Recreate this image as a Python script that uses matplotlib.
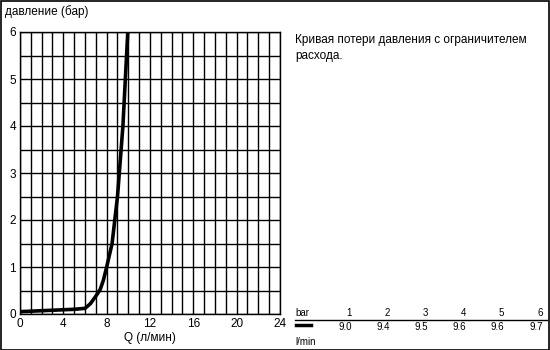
import matplotlib.pyplot as plt
from matplotlib.ticker import MultipleLocator
from matplotlib.patches import Rectangle
from matplotlib.lines import Line2D

plt.rcParams['font.family'] = ['Liberation Sans', 'DejaVu Sans']

# curve
flow = [0, 1, 2, 3, 4, 5, 6, 6.5, 7, 7.4, 7.7, 8.0, 8.5, 9.0, 9.5, 9.95]
pressure = [0.05, 0.06, 0.07, 0.08, 0.09, 0.10, 0.12, 0.22, 0.38, 0.52, 0.72,
            1.0, 1.5, 2.5, 4.0, 6.0]

# table at the bottom right
table_bar = ['1', '2', '3', '4', '5', '6']
table_lmin = ['9.0', '9.4', '9.5', '9.6', '9.6', '9.7']

title_lines = ['Кривая потери давления с ограничителем', 'расхода.']

W, H = 550, 350
fig = plt.figure(figsize=(5.5, 3.5), dpi=100)
fig.patch.set_facecolor('white')

ax = fig.add_axes([20 / W, 1 - 314 / H, 260 / W, 282 / H])
ax.set_xlim(0, 24)
ax.set_ylim(0, 6)
ax.xaxis.set_major_locator(MultipleLocator(4))
ax.xaxis.set_minor_locator(MultipleLocator(1))
ax.yaxis.set_major_locator(MultipleLocator(1))
ax.yaxis.set_minor_locator(MultipleLocator(0.5))
ax.grid(which='both', color='black', linewidth=1)
ax.set_axisbelow(True)
ax.tick_params(which='both', length=0, labelsize=8.5, pad=3)
for s in ax.spines.values():
    s.set_color('black')
    s.set_linewidth(1)

ax.plot(flow, pressure, color='black', linewidth=2.6, solid_capstyle='butt')

ax.set_xlabel('Q (л/мин)', fontsize=8.5, labelpad=1)
fig.text(5 / W, 1 - 12 / H, 'давление (бар)', fontsize=8.5, va='center')

# title on the right
for i, line in enumerate(title_lines):
    fig.text(295 / W, 1 - (40 + i * 16) / H, line, fontsize=8.5, va='center')

# table
fig.text(295 / W, 1 - 313 / H, 'bar', fontsize=7, va='center')
fig.text(295 / W, 1 - 342 / H, 'l/min', fontsize=7, va='center')
xs = [352, 390, 428, 466, 504, 543]
for x, b, q in zip(xs, table_bar, table_lmin):
    fig.text(x / W, 1 - 313 / H, b, fontsize=7, ha='right', va='center')
    fig.text(x / W, 1 - 327 / H, q, fontsize=7, ha='right', va='center')
fig.add_artist(Line2D([295 / W, 547 / W], [1 - 320 / H, 1 - 320 / H],
                      color='black', linewidth=1))
fig.add_artist(Line2D([296 / W, 311 / W], [1 - 325 / H, 1 - 325 / H],
                      color='black', linewidth=2.5))

# outer frame
fig.add_artist(Rectangle((0.5 / W, 0.5 / H), 1 - 1.5 / W, 1 - 1.5 / H,
                         transform=fig.transFigure, fill=False,
                         edgecolor='black', linewidth=1.2))

fig.savefig('out.png', dpi=100)
